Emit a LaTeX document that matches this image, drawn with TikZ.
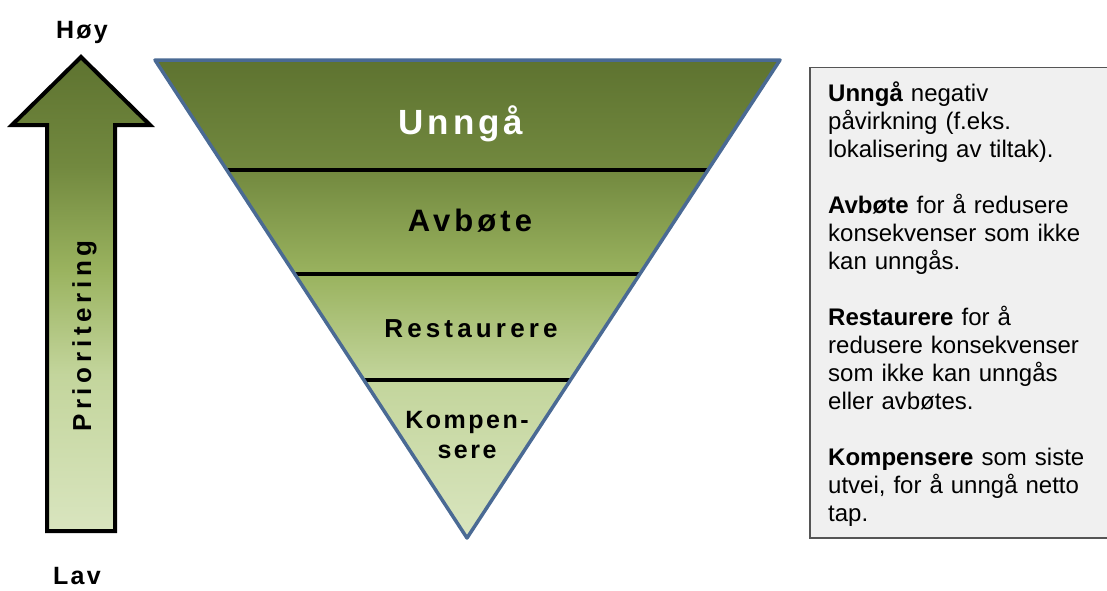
\documentclass[tikz,border=0pt]{standalone}
\usepackage{fontspec}
\setmainfont{Liberation Sans}
\definecolor{gdark}{HTML}{5E7330}
\definecolor{gband}{HTML}{72893F}
\definecolor{gmid}{HTML}{9AB35F}
\definecolor{gpale}{HTML}{C3D59C}
\definecolor{glight}{HTML}{D9E5BF}
\definecolor{tblue}{HTML}{4A6A94}
\definecolor{boxfill}{HTML}{F0F0F0}
\definecolor{boxline}{HTML}{555555}
\pgfdeclareverticalshading{greenfade}{100bp}{color(0bp)=(glight); color(25bp)=(glight); color(41.5bp)=(gpale); color(52.5bp)=(gmid); color(63.5bp)=(gband); color(75bp)=(gdark); color(100bp)=(gdark)}
\begin{document}
\begin{tikzpicture}[x=1pt,y=-1pt,
  level/.style={inner sep=0pt, anchor=base},
  side/.style={inner sep=0pt, anchor=base, font=\fontsize{25}{25}\selectfont\bfseries\addfontfeatures{LetterSpace=9}},
  divider/.style={line width=4pt, black},
  descr/.style={inner sep=0pt, anchor=base west, text width=275pt, align=left,
    font=\fontsize{24}{28}\selectfont}]
\useasboundingbox (0,0) rectangle (1107,590);
% priority arrow
\shade[shading=greenfade] (81,57) -- (150,125) -- (115,125) -- (115,531) -- (47,531) -- (47,125) -- (12,125) -- cycle;
\draw[line width=4pt, line join=miter] (81,57) -- (150,125) -- (115,125) -- (115,531) -- (47,531) -- (47,125) -- (12,125) -- cycle;
\node[inner sep=0pt, anchor=base, rotate=90, font=\fontsize{26}{26}\selectfont\bfseries\addfontfeatures{LetterSpace=18}] (prio) at (91,336) {Prioritering};
\node[side] (hoy) at (82,38) {Høy};
\node[side] (lav) at (77,584) {Lav};
% inverted triangle
\shade[shading=greenfade] (155,60) -- (780,60) -- (467,538) -- cycle;
\draw[divider] (227,170) -- (708,170);
\draw[divider] (295,274) -- (640,274);
\draw[divider] (364,380) -- (570,380);
\draw[tblue, line width=3.5pt, line join=round] (155,60) -- (780,60) -- (467,538) -- cycle;
\node[level, white, font=\fontsize{35}{35}\selectfont\bfseries\addfontfeatures{LetterSpace=11}] (unnga) at (461,134) {Unngå};
\node[level, font=\fontsize{31}{31}\selectfont\bfseries\addfontfeatures{LetterSpace=13}] (avbote) at (470,231.5) {Avbøte};
\node[level, font=\fontsize{26}{26}\selectfont\bfseries\addfontfeatures{LetterSpace=16}] (rest) at (471,337) {Restaurere};
\node[level, font=\fontsize{25}{25}\selectfont\bfseries\addfontfeatures{LetterSpace=10}] (komp1) at (467,428.5) {Kompen-};
\node[level, font=\fontsize{25}{25}\selectfont\bfseries\addfontfeatures{LetterSpace=10}] (komp2) at (467,458) {sere};
% description box
\draw[boxline, fill=boxfill, line width=1.5pt] (810,67.5) rectangle (1112,538);
\node[descr] (desc) at (828,101.5) {\textbf{Unngå} negativ\\
påvirkning (f.eks.\\
lokalisering av tiltak).\\[28pt]
\textbf{Avbøte} for å redusere\\
konsekvenser som ikke\\
kan unngås.\\[28pt]
\textbf{Restaurere} for å\\
redusere konsekvenser\\
som ikke kan unngås\\
eller avbøtes.\\[28pt]
\textbf{Kompensere} som siste\\
utvei, for å unngå netto\\
tap.};
\end{tikzpicture}
\end{document}
